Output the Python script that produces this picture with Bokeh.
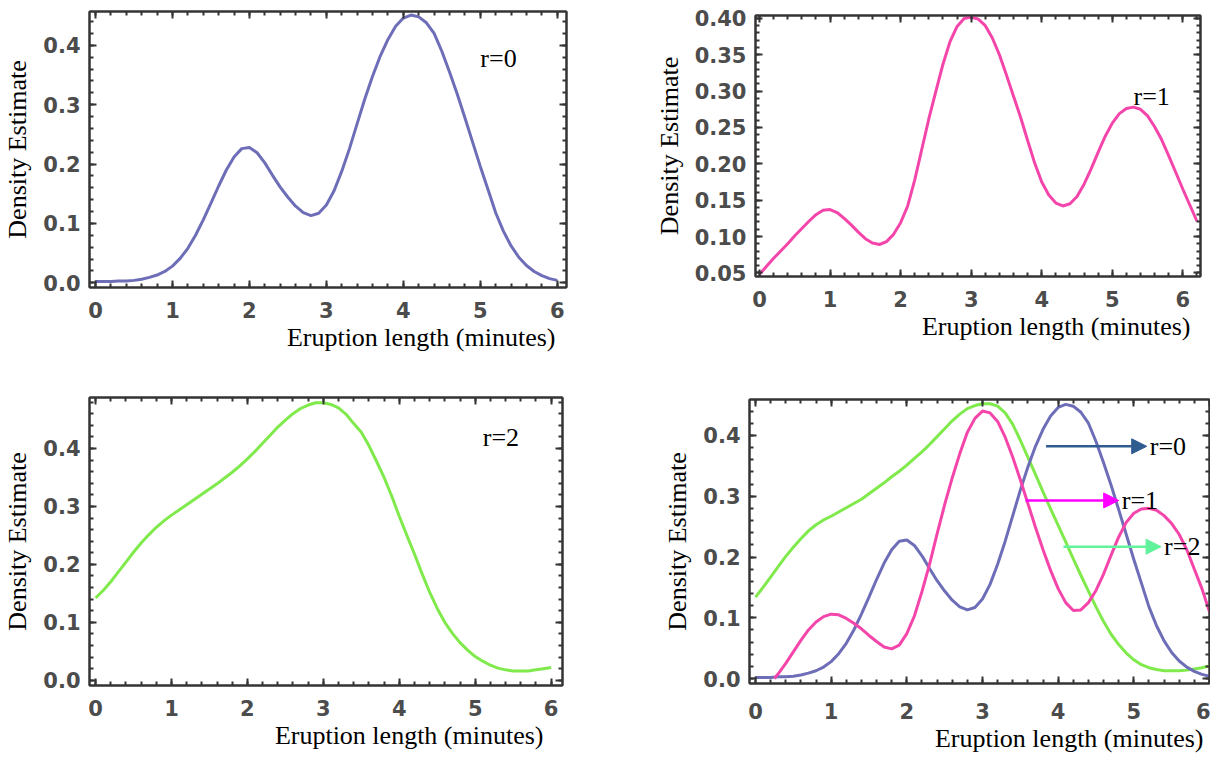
from bokeh.plotting import figure
from bokeh.layouts import row, column
from bokeh.models import (Range1d, FixedTicker, LinearAxis, Label, Title, Arrow,
                          NormalHead, CustomJSTickFormatter)
from bokeh.embed import file_html
from bokeh.resources import INLINE

# ---------------- data ----------------
x_grid = [0.0, 0.1, 0.2, 0.3, 0.4, 0.5, 0.6, 0.7, 0.8, 0.9,
          1.0, 1.1, 1.2, 1.3, 1.4, 1.5, 1.6, 1.7, 1.8, 1.9,
          2.0, 2.1, 2.2, 2.3, 2.4, 2.5, 2.6, 2.7, 2.8, 2.9,
          3.0, 3.1, 3.2, 3.3, 3.4, 3.5, 3.6, 3.7, 3.8, 3.9,
          4.0, 4.1, 4.2, 4.3, 4.4, 4.5, 4.6, 4.7, 4.8, 4.9,
          5.0, 5.1, 5.2, 5.3, 5.4, 5.5, 5.6, 5.7, 5.8, 5.9, 6.0]

# r = 0 (top-left, also in the combined panel)
y_r0 = [0.002, 0.002, 0.002, 0.003, 0.003, 0.004, 0.006, 0.009, 0.013, 0.019,
        0.028, 0.041, 0.058, 0.080, 0.106, 0.134, 0.163, 0.190, 0.212, 0.226,
        0.228, 0.219, 0.202, 0.181, 0.161, 0.144, 0.129, 0.118, 0.113, 0.117,
        0.131, 0.155, 0.188, 0.226, 0.268, 0.310, 0.348, 0.382, 0.410, 0.432,
        0.446, 0.451, 0.448, 0.438, 0.420, 0.390, 0.355, 0.318, 0.278, 0.237,
        0.196, 0.157, 0.118, 0.087, 0.062, 0.043, 0.029, 0.019, 0.012, 0.007, 0.004]

# r = 1 (top-right), x from 0.0 to 6.2
x_r1 = x_grid + [6.1, 6.2]
y_r1 = [0.048, 0.059, 0.070, 0.080, 0.090, 0.101, 0.111, 0.121, 0.130, 0.136,
        0.137, 0.133, 0.125, 0.116, 0.106, 0.097, 0.091, 0.089, 0.093, 0.103,
        0.119, 0.142, 0.178, 0.220, 0.262, 0.300, 0.337, 0.368, 0.389, 0.400,
        0.402, 0.399, 0.390, 0.373, 0.350, 0.322, 0.293, 0.264, 0.232, 0.201,
        0.175, 0.157, 0.146, 0.142, 0.145, 0.155, 0.172, 0.193, 0.216, 0.238,
        0.256, 0.269, 0.276, 0.278, 0.275, 0.266, 0.251, 0.233, 0.211, 0.188,
        0.165, 0.143, 0.121]

# r = 2 (bottom-left)
y_r2 = [0.142, 0.155, 0.170, 0.187, 0.204, 0.221, 0.237, 0.251, 0.264, 0.275,
        0.285, 0.294, 0.303, 0.312, 0.321, 0.330, 0.339, 0.349, 0.359, 0.370,
        0.382, 0.395, 0.409, 0.423, 0.437, 0.449, 0.460, 0.469, 0.475, 0.479,
        0.479, 0.476, 0.470, 0.459, 0.443, 0.428, 0.405, 0.378, 0.350, 0.318,
        0.283, 0.250, 0.218, 0.184, 0.152, 0.124, 0.100, 0.081, 0.065, 0.052,
        0.041, 0.033, 0.026, 0.021, 0.018, 0.016, 0.016, 0.016, 0.018, 0.020, 0.022]

# combined panel: r = 1 curve (starts near x = 0.25)
x_r1c = [0.25, 0.3, 0.4, 0.5, 0.6, 0.7, 0.8, 0.9,
         1.0, 1.1, 1.2, 1.3, 1.4, 1.5, 1.6, 1.7, 1.8, 1.9,
         2.0, 2.1, 2.2, 2.3, 2.4, 2.5, 2.6, 2.7, 2.8, 2.9,
         3.0, 3.1, 3.2, 3.3, 3.4, 3.5, 3.6, 3.7, 3.8, 3.9,
         4.0, 4.1, 4.2, 4.3, 4.4, 4.5, 4.6, 4.7, 4.8, 4.9,
         5.0, 5.1, 5.2, 5.3, 5.4, 5.5, 5.6, 5.7, 5.8, 5.9, 6.0, 6.1]
y_r1c = [0.000, 0.008, 0.025, 0.044, 0.063, 0.080, 0.093, 0.102,
         0.106, 0.105, 0.099, 0.091, 0.082, 0.071, 0.061, 0.052, 0.049, 0.055,
         0.074, 0.103, 0.143, 0.188, 0.238, 0.286, 0.330, 0.370, 0.405, 0.428,
         0.440, 0.437, 0.423, 0.397, 0.364, 0.327, 0.288, 0.249, 0.212, 0.178,
         0.148, 0.125, 0.112, 0.113, 0.125, 0.145, 0.172, 0.203, 0.233, 0.257,
         0.272, 0.279, 0.280, 0.277, 0.268, 0.255, 0.237, 0.212, 0.180, 0.148, 0.110, 0.080]

# combined panel: r = 2 curve
y_r2c = [0.134, 0.150, 0.167, 0.184, 0.201, 0.216, 0.230, 0.243, 0.253, 0.261,
         0.267, 0.274, 0.281, 0.288, 0.295, 0.304, 0.313, 0.322, 0.332, 0.341,
         0.351, 0.362, 0.373, 0.385, 0.398, 0.411, 0.424, 0.435, 0.444, 0.449,
         0.452, 0.452, 0.448, 0.437, 0.418, 0.392, 0.364, 0.336, 0.307, 0.279,
         0.252, 0.225, 0.197, 0.170, 0.144, 0.118, 0.094, 0.073, 0.056, 0.042,
         0.031, 0.023, 0.018, 0.015, 0.013, 0.013, 0.013, 0.014, 0.016, 0.018, 0.021]

x_ticks = [0, 1, 2, 3, 4, 5, 6]
y_ticks_a = [0.0, 0.1, 0.2, 0.3, 0.4]
y_ticks_b = [0.05, 0.10, 0.15, 0.20, 0.25, 0.30, 0.35, 0.40]

labels = ["r=0", "r=1", "r=2"]
x_title = "Eruption length (minutes)"
y_title = "Density Estimate"

C_R0 = "#6e6eb8"
C_R1 = "#f446aa"
C_R2 = "#80ea4c"
FRAME = "#343434"
TICKLAB = "#4c4c4c"
SERIF = "Liberation Serif"


def minor_list(major, n):
    step_major = major[1] - major[0]
    step = step_major / n
    out = []
    v = major[0] - step_major
    while v <= major[-1] + step_major + 1e-9:
        out.append(round(v, 5))
        v += step
    return out


def style_axis(ax, show_labels, standoff=9):
    ax.axis_line_color = FRAME
    ax.axis_line_width = 2
    ax.major_tick_in = 7
    ax.major_tick_out = 0
    ax.minor_tick_in = 4
    ax.minor_tick_out = 0
    ax.major_tick_line_color = FRAME
    ax.minor_tick_line_color = FRAME
    ax.major_tick_line_width = 2
    ax.minor_tick_line_width = 2
    if show_labels:
        ax.major_label_text_font = "DejaVu Sans"
        ax.major_label_text_font_size = "21px"
        ax.major_label_text_font_style = "bold"
        ax.major_label_text_color = TICKLAB
        ax.major_label_standoff = standoff
    else:
        ax.major_label_text_color = None
        ax.major_label_text_font_size = "0px"
        ax.major_label_standoff = 0


def make_panel(w, h, bl, br, bt, bb, xr, yr, yticks, ydec, title_offset, x_standoff=14):
    p = figure(width=w, height=h, output_backend="svg", toolbar_location=None,
               x_range=Range1d(*xr), y_range=Range1d(*yr),
               x_axis_location=None, y_axis_location=None,
               min_border_left=bl, min_border_right=br,
               min_border_top=bt, min_border_bottom=bb)
    p.xgrid.visible = False
    p.ygrid.visible = False
    p.outline_line_color = FRAME
    p.outline_line_width = 2
    p.background_fill_color = "white"
    p.border_fill_color = "white"

    xt = FixedTicker(ticks=x_ticks, minor_ticks=minor_list(x_ticks, 5))
    yt = FixedTicker(ticks=yticks, minor_ticks=minor_list(yticks, 5))
    yfmt = CustomJSTickFormatter(code="return tick.toFixed(%d);" % ydec)
    xfmt = CustomJSTickFormatter(code="return tick.toFixed(0);")

    bx = LinearAxis(ticker=xt, formatter=xfmt)
    style_axis(bx, True, standoff=x_standoff)
    p.add_layout(bx, "below")
    tx = LinearAxis(ticker=xt, formatter=xfmt)
    style_axis(tx, False)
    p.add_layout(tx, "above")

    ly = LinearAxis(ticker=yt, formatter=yfmt, axis_label=y_title)
    style_axis(ly, True, standoff=9)
    ly.axis_label_text_font = SERIF
    ly.axis_label_text_font_style = "normal"
    ly.axis_label_text_font_size = "26px"
    ly.axis_label_text_color = "black"
    ly.axis_label_standoff = 8
    p.add_layout(ly, "left")
    ry = LinearAxis(ticker=yt, formatter=yfmt)
    style_axis(ry, False)
    p.add_layout(ry, "right")

    t = Title(text=x_title, align="right", text_font=SERIF, text_font_style="normal",
              text_font_size="26px", text_color="black", offset=title_offset, standoff=0)
    p.add_layout(t, "below")
    return p


def rlabel(p, x, y, text):
    p.add_layout(Label(x=x, y=y, text=text, text_font=SERIF, text_font_size="26px",
                       text_color="black", text_baseline="middle", text_align="left"))


# panel 1 (r=0)
p1 = make_panel(608, 378, 89, 42, 11, 91, (-0.078, 6.12), (-0.008, 0.457), y_ticks_a, 1, 11)
p1.line(x_grid, y_r0, line_color=C_R0, line_width=3)
rlabel(p1, 5.0, 0.378, labels[0])

# panel 2 (r=1)
p2 = make_panel(602, 378, 147, 10, 15, 102, (-0.057, 6.25), (0.045, 0.404), y_ticks_b, 2, 10)
p2.line(x_r1, y_r1, line_color=C_R1, line_width=3)
rlabel(p2, 5.3, 0.292, labels[1])

# panel 3 (r=2)
p3 = make_panel(608, 380, 87, 46, 19, 73, (-0.08, 6.15), (-0.009, 0.488), y_ticks_a, 1, 19)
p3.line(x_grid, y_r2, line_color=C_R2, line_width=3)
rlabel(p3, 5.1, 0.419, labels[2])

# panel 4 (all three)
p4 = make_panel(602, 380, 141, 1, 21, 75, (-0.079, 6.0), (-0.008, 0.459), y_ticks_a, 1, 6,
                x_standoff=19)
p4.line(x_grid, y_r2c, line_color=C_R2, line_width=3)
p4.line(x_grid, y_r0, line_color=C_R0, line_width=3)
p4.line(x_r1c, y_r1c, line_color=C_R1, line_width=3)

arrow_specs = [
    (3.84, 5.17, 0.382, "#2f5b8f", labels[0]),
    (3.57, 4.80, 0.293, "#ff00ff", labels[1]),
    (4.07, 5.36, 0.217, "#62f29c", labels[2]),
]
for xs, xe, yy, col, lab in arrow_specs:
    p4.add_layout(Arrow(x_start=xs, y_start=yy, x_end=xe, y_end=yy,
                        line_color=col, line_width=2.5,
                        end=NormalHead(size=15, fill_color=col, line_color=col)))
    rlabel(p4, xe + 0.04, yy, lab)

layout = column(row(column(p1), column(p2)), row(column(p3), column(p4)))
open("out.html", "w").write(file_html(layout, INLINE))
